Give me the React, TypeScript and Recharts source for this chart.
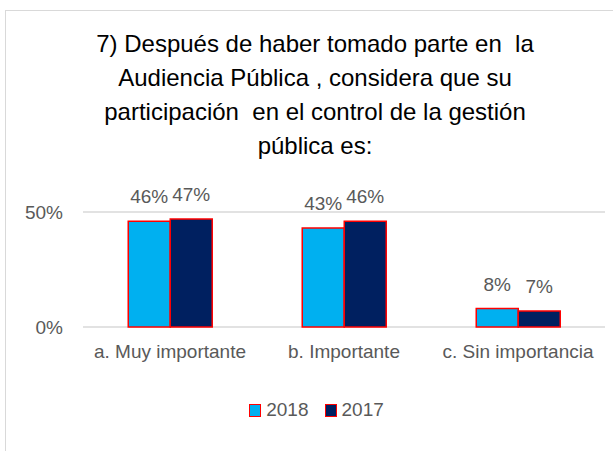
import React from 'react';
import { BarChart, Bar, XAxis, YAxis, CartesianGrid, Legend, LabelList } from 'recharts';

const categories = ['a. Muy importante', 'b. Importante', 'c. Sin importancia'];
const values2018 = [0.46, 0.43, 0.08];
const values2017 = [0.47, 0.46, 0.07];
const yTicks = [0, 0.5];
const seriesNames = ['2018', '2017'];
const seriesColors = ['#00b0f0', '#002060'];
const titleLines = [
  '7) Después de haber tomado parte en  la',
  'Audiencia Pública , considera que su',
  'participación  en el control de la gestión',
  'pública es:',
];

const FONT = '"Liberation Sans", Arial, sans-serif';
const pct = (v: any) => `${Math.round(Number(v) * 100)}%`;

const chartData = categories.map((name, i) => ({
  name,
  y2018: values2018[i],
  y2017: values2017[i],
}));

const renderLegend = () => (
  <div style={{ display: 'flex', justifyContent: 'center', gap: 16, fontSize: 19, color: '#595959', fontFamily: FONT, paddingLeft: 28 }}>
    {seriesNames.map((n, i) => (
      <div key={n} style={{ display: 'flex', alignItems: 'center', gap: 5 }}>
        <span
          style={{
            display: 'inline-block',
            width: 10,
            height: 11,
            background: seriesColors[i],
            border: '1.5px solid #ff0000',
          }}
        />
        <span>{n}</span>
      </div>
    ))}
  </div>
);

const App: React.FC = () => {
  return (
    <div style={{ position: 'absolute', left: 0, top: 0, width: 613, height: 451, background: '#fff', fontFamily: FONT }}>
      {/* chart frame */}
      <div
        style={{
          position: 'absolute',
          left: 5,
          top: 10,
          width: 620,
          height: 460,
          borderLeft: '1.5px solid #d9d9d9',
          borderTop: '1.5px solid #d9d9d9',
        }}
      />
      <div
        style={{
          position: 'absolute',
          left: 0,
          top: 27,
          width: 630,
          textAlign: 'center',
          fontSize: 24,
          lineHeight: '34px',
          color: '#000',
        }}
      >
        {titleLines.map((t, i) => (
          <div key={i} style={{ whiteSpace: 'pre' }}>{t}</div>
        ))}
      </div>
      <div style={{ position: 'absolute', left: 0, top: 0 }}>
        <BarChart
          width={613}
          height={451}
          data={chartData}
          margin={{ top: 212, right: 8, bottom: 20, left: 0 }}
          barCategoryGap="26%"
          barGap={0}
        >
          <CartesianGrid vertical={false} stroke="#d9d9d9" strokeWidth={1.5} />
          <XAxis
            dataKey="name"
            axisLine={false}
            tickLine={false}
            height={54}
            tick={{ fill: '#595959', fontSize: 19, fontFamily: FONT }}
            tickMargin={12}
            interval={0}
          />
          <YAxis
            width={83}
            domain={[0, 0.5]}
            ticks={yTicks}
            tickFormatter={pct}
            axisLine={false}
            tickLine={false}
            tick={{ fill: '#595959', fontSize: 19, fontFamily: FONT }}
            tickMargin={14}
          />
          <Legend height={50} content={renderLegend} wrapperStyle={{ top: 399 }} />
          <Bar dataKey="y2018" name="2018" fill={seriesColors[0]} stroke="#ff0000" strokeWidth={1.5} isAnimationActive={false}>
            <LabelList dataKey="y2018" position="top" offset={18} formatter={pct} fill="#595959" fontSize={19} fontFamily={FONT} />
          </Bar>
          <Bar dataKey="y2017" name="2017" fill={seriesColors[1]} stroke="#ff0000" strokeWidth={1.5} isAnimationActive={false}>
            <LabelList dataKey="y2017" position="top" offset={18} formatter={pct} fill="#595959" fontSize={19} fontFamily={FONT} />
          </Bar>
        </BarChart>
      </div>
    </div>
  );
};

export default App;
